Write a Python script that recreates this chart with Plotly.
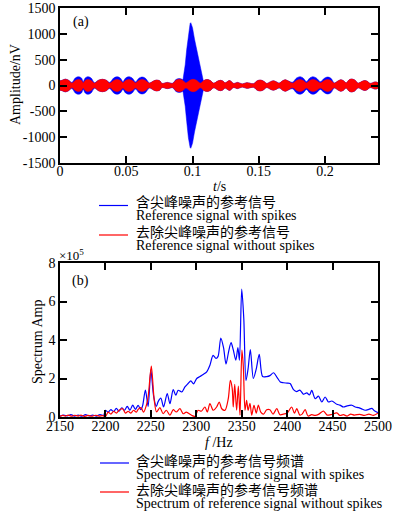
import plotly.graph_objects as go

# ---------------- Panel (a): time-domain envelopes (amplitude in nV) ----------------
env_t = [0, 0.0015, 0.004, 0.0065, 0.009,
         0.0115, 0.014, 0.0162, 0.0175,
         0.019, 0.021, 0.0235, 0.026,
         0.029, 0.032, 0.035, 0.0375,
         0.0405, 0.043, 0.0455, 0.0475,
         0.0495, 0.052, 0.0545, 0.057,
         0.0595, 0.062, 0.0645, 0.0675,
         0.0705, 0.073, 0.0755, 0.077,
         0.081, 0.085,
         0.0875, 0.090, 0.0925, 0.095,
         0.098, 0.1005, 0.103, 0.106,
         0.1085, 0.111, 0.1135, 0.116,
         0.119, 0.121, 0.123, 0.1245,
         0.128, 0.131, 0.134, 0.1375, 0.141, 0.146,
         0.1485, 0.151, 0.1535, 0.156,
         0.159, 0.161, 0.163, 0.1655,
         0.168, 0.170, 0.172, 0.1755,
         0.1785, 0.181, 0.1835, 0.186,
         0.1885, 0.191, 0.1935, 0.1965,
         0.1995, 0.202, 0.2045, 0.207,
         0.210, 0.212, 0.214, 0.216,
         0.218, 0.220, 0.2225, 0.225,
         0.228, 0.230, 0.232, 0.234,
         0.238, 0.24]

red_amp = [90, 100, 120, 100, 45,
           95, 115, 95, 50,
           95, 115, 95, 45,
           100, 120, 100, 45,
           95, 115, 95, 50,
           95, 115, 95, 50,
           95, 115, 95, 45,
           85, 105, 85, 40,
           60, 40,
           100, 120, 100, 50,
           100, 120, 100, 45,
           95, 115, 95, 45,
           85, 100, 85, 50,
           95, 40, 60, 30, 55, 35,
           85, 105, 85, 40,
           75, 90, 75, 45,
           90, 110, 90, 45,
           95, 115, 95, 50,
           95, 115, 95, 50,
           95, 115, 95, 45,
           90, 110, 90, 50,
           105, 125, 105, 45,
           80, 95, 80, 40,
           70, 50]

blue_amp = [90, 100, 125, 100, 60,
            145, 170, 145, 75,
            145, 170, 145, 55,
            100, 120, 100, 60,
            145, 170, 145, 75,
            145, 170, 145, 70,
            140, 165, 140, 50,
            85, 105, 85, 40,
            60, 45,
            115, 135, 115, 55,
            100, 120, 100, 50,
            95, 115, 95, 45,
            85, 100, 85, 50,
            95, 40, 60, 30, 55, 35,
            85, 105, 85, 40,
            75, 90, 75, 50,
            90, 110, 90, 65,
            145, 170, 145, 75,
            145, 170, 145, 75,
            140, 165, 140, 50,
            90, 110, 90, 50,
            105, 125, 105, 45,
            80, 95, 80, 40,
            70, 50]

spike_t = [0.0928, 0.0945, 0.0956, 0.0969, 0.0982, 0.0987, 0.1000, 0.1015, 0.1032, 0.1055, 0.1080]
spike_amp = [110, 400, 690, 1010, 1200, 1215, 1120, 900, 690, 400, 110]

t_ticks = [0, 0.05, 0.1, 0.15, 0.2]
t_ticktext = ["0", "0.05", "0.1", "0.15", "0.2"]
amp_ticks = [-1500, -1000, -500, 0, 500, 1000, 1500]
amp_ticktext = ["-1500", "-1000", "-500", "0", "500", "1000", "1500"]

# ---------------- Panel (b): spectra (units of 1e5) ----------------
blue_f = [2150, 2154, 2158, 2162, 2166, 2170, 2174, 2178, 2182, 2186, 2190, 2194, 2198,
          2200, 2203, 2206, 2209, 2212, 2215, 2218, 2221, 2224, 2227, 2230, 2233, 2236, 2239,
          2241, 2244, 2247, 2250, 2253, 2256, 2258, 2261, 2264, 2268, 2271, 2274.6, 2277.5,
          2280, 2284, 2287.5, 2291, 2294, 2297, 2300.5, 2304, 2308, 2311.5, 2315, 2318.5,
          2321.7, 2324, 2327, 2330, 2332.7, 2335.6, 2338.3, 2340.8, 2343.5, 2345.8, 2347.5,
          2350, 2352.3, 2354.7, 2357, 2359.5, 2362.8, 2366, 2369.3, 2373, 2377.5, 2381, 2385,
          2389, 2392.5, 2396, 2400, 2403.3, 2407, 2410.5, 2414, 2418, 2421.6, 2424.6, 2427.1,
          2430.8, 2434.5, 2438.2, 2441.8, 2445.5, 2449.2, 2454.7, 2458, 2462, 2466, 2471.2,
          2475, 2478.6, 2482, 2485.9, 2490, 2493.3, 2496, 2500]
blue_spec = [0.05, 0.10, 0.06, 0.12, 0.05, 0.10, 0.04, 0.12, 0.06, 0.10, 0.05, 0.12, 0.08,
             0.35, 0.25, 0.38, 0.28, 0.45, 0.30, 0.48, 0.35, 0.55, 0.35, 0.62, 0.40, 0.60, 0.38,
             0.60, 1.40, 0.55, 2.45, 1.10, 0.55, 0.80, 0.98, 0.52, 1.22, 0.69, 1.42, 1.13,
             1.39, 1.30, 1.56, 1.74, 1.88, 1.72, 2.00, 2.10, 2.22, 2.35, 2.69, 3.20,
             3.04, 3.15, 4.10, 3.60, 2.75, 3.40, 3.86, 3.47, 2.95, 3.60, 2.95,
             6.65, 5.10, 1.90, 2.50, 3.50, 2.00, 2.50, 3.25, 2.10, 2.10, 2.15, 2.30,
             2.05, 1.82, 1.78, 1.76, 1.74, 1.42, 1.32, 1.40, 1.18, 1.25, 1.15, 1.38,
             0.95, 1.08, 0.78, 1.04, 0.78, 0.83, 0.66, 0.62, 0.52, 0.58, 0.61,
             0.52, 0.49, 0.42, 0.35, 0.40, 0.45, 0.32, 0.23]

red_f = [2150, 2153, 2156, 2159, 2163, 2166, 2170, 2173, 2177, 2181, 2185, 2189, 2193, 2197,
         2200, 2203, 2206, 2209, 2212, 2215, 2219, 2222, 2225, 2228, 2231, 2234, 2236, 2239,
         2242, 2245, 2247, 2250.5, 2253.7, 2256.3, 2260, 2263.5, 2267, 2271, 2274.6, 2278,
         2282, 2285.6, 2289, 2294.8, 2298.5, 2302, 2305.5, 2309.5, 2312.1, 2315, 2318.7,
         2322.4, 2325.3, 2328, 2331.6, 2335.2, 2337.5, 2339.5, 2340.7, 2342.3, 2344.4, 2346.3,
         2348.1, 2350.2, 2351.8, 2353.6, 2355.4, 2357, 2359.1, 2361, 2363.5, 2366, 2368.3,
         2371, 2374, 2377.5, 2381, 2384.5, 2388.6, 2392, 2396, 2400, 2405, 2408, 2410.6,
         2414, 2416.5, 2419.8, 2423, 2427, 2431, 2435, 2440, 2444, 2448, 2454.7, 2458, 2462,
         2466, 2470, 2474, 2480, 2485, 2490, 2495, 2500]
red_spec = [0.03, 0.08, 0.05, 0.10, 0.04, 0.09, 0.05, 0.10, 0.03, 0.08, 0.04, 0.09, 0.05, 0.07,
            0.02, 0.25, 0.15, 0.30, 0.20, 0.35, 0.43, 0.20, 0.30, 0.20, 0.35, 0.25, 0.40, 0.49,
            0.25, 0.60, 1.04, 2.64, 0.87, 0.26, 0.49, 0.17, 0.35, 0.09, 0.38, 0.26,
            0.43, 0.17, 0.25, 0.09, 0.03, 0.35, 0.30, 0.52, 0.26, 0.69, 0.35,
            0.52, 0.78, 0.43, 0.35, 0.95, 1.90, 1.50, 0.52, 1.70, 0.35, 1.60,
            0.09, 3.47, 2.60, 0.35, 0.87, 0.35, 0.71, 0.10, 0.61, 0.20, 0.62,
            0.25, 0.15, 0.38, 0.38, 0.15, 0.43, 0.12, 0.15, 0.20, 0.52, 0.20, 0.43,
            0.10, 0.15, 0.38, 0.05, 0.12, 0.08, 0.15, 0.31, 0.10, 0.12, 0.21, 0.08, 0.12,
            0.05, 0.15, 0.10, 0.14, 0.08, 0.15, 0.08, 0.20]

f_ticks = [2150, 2200, 2250, 2300, 2350, 2400, 2450, 2500]
spec_ticks = [0, 2, 4, 6, 8]

assert len(env_t) == len(red_amp) == len(blue_amp)
assert len(blue_f) == len(blue_spec)
assert len(red_f) == len(red_spec)

BLUE = "#0000ff"
RED = "#ff0000"
SERIF = "Liberation Serif"
CJK = "Noto Sans CJK SC"

def band(t, a):
    return list(t) + list(t)[::-1], list(a) + [-v for v in list(a)[::-1]]

fig = go.Figure()

bx, by = band(env_t, blue_amp)
fig.add_trace(go.Scatter(x=bx, y=by, fill="toself", fillcolor=BLUE, mode="lines",
                         line=dict(color=BLUE, width=0.5, shape="spline", smoothing=1.0),
                         xaxis="x", yaxis="y", showlegend=False, hoverinfo="skip"))
sx, sy = band(spike_t, spike_amp)
fig.add_trace(go.Scatter(x=sx, y=sy, fill="toself", fillcolor=BLUE, mode="lines",
                         line=dict(color=BLUE, width=0.5),
                         xaxis="x", yaxis="y", showlegend=False, hoverinfo="skip"))
rx, ry = band(env_t, red_amp)
fig.add_trace(go.Scatter(x=rx, y=ry, fill="toself", fillcolor=RED, mode="lines",
                         line=dict(color=RED, width=0.5, shape="spline", smoothing=1.0),
                         xaxis="x", yaxis="y", showlegend=False, hoverinfo="skip"))

fig.add_trace(go.Scatter(x=blue_f, y=blue_spec, mode="lines",
                         line=dict(color=BLUE, width=1.2, shape="spline", smoothing=0.8),
                         xaxis="x2", yaxis="y2", showlegend=False))
fig.add_trace(go.Scatter(x=red_f, y=red_spec, mode="lines",
                         line=dict(color=RED, width=1.2, shape="spline", smoothing=0.8),
                         xaxis="x2", yaxis="y2", showlegend=False))

W, H = 398, 517
def px(x):
    return x / W
def py(y):
    return 1 - y / H

axis_common = dict(showline=True, linecolor="black", linewidth=1.5, mirror="ticks",
                   ticks="inside", ticklen=7, tickwidth=1.5, tickcolor="black",
                   showgrid=False, zeroline=False, automargin=False,
                   tickfont=dict(family=SERIF, size=14, color="black"))

fig.update_layout(
    width=W, height=H, margin=dict(l=0, r=0, t=0, b=0, autoexpand=False),
    paper_bgcolor="white", plot_bgcolor="white",
    font=dict(family=SERIF, size=14, color="black"),
    xaxis=dict(domain=[px(60), px(378)], range=[0, 0.24], tickvals=t_ticks,
               ticktext=t_ticktext, anchor="y", ticklabelstandoff=-6, **axis_common),
    yaxis=dict(domain=[py(163), py(8)], range=[-1500, 1500], tickvals=amp_ticks,
               ticktext=amp_ticktext, anchor="x", **axis_common),
    xaxis2=dict(domain=[px(60), px(378)], range=[2150, 2500], tickvals=f_ticks,
                anchor="y2", ticklabelstandoff=-5, **axis_common),
    yaxis2=dict(domain=[py(417), py(263)], range=[0, 8], tickvals=spec_ticks,
                anchor="x2", **axis_common),
)

ann = []
def text(x, y, s, family=SERIF, size=14, xanchor="left", angle=0):
    ann.append(dict(x=px(x), y=py(y), xref="paper", yref="paper", text=s, showarrow=False,
                    xanchor=xanchor, yanchor="middle", textangle=angle,
                    font=dict(family=family, size=size, color="black")))

text(71, 22, "(a)")
text(70, 281, "(b)")
text(219, 186, "<i>t</i>/s", xanchor="center")
text(219, 442, "<i>f</i> /Hz", xanchor="center")
text(15, 85, "Amplitude/nV", xanchor="center", angle=-90)
text(37, 342, "Spectrum Amp", xanchor="center", angle=-90)
text(57, 255, "×10<sup>5</sup>", size=13)

# legends
text(134, 201, "含尖峰噪声的参考信号", family=CJK, size=14)
text(134, 215, "Reference signal with spikes")
text(134, 231, "去除尖峰噪声的参考信号", family=CJK, size=14)
text(134, 246, "Reference signal without spikes")
text(134, 460, "含尖峰噪声的参考信号频谱", family=CJK, size=14)
text(134, 474, "Spectrum of reference signal with spikes")
text(134, 489, "去除尖峰噪声的参考信号频谱", family=CJK, size=14)
text(134, 503, "Spectrum of reference signal without spikes")

shapes = []
for (x0, x1, y, c) in [(99, 128, 205.5, BLUE), (99, 128, 235, RED),
                       (100, 129, 463, BLUE), (100, 129, 492, RED)]:
    shapes.append(dict(type="line", xref="paper", yref="paper", x0=px(x0), x1=px(x1),
                       y0=py(y), y1=py(y), line=dict(color=c, width=1.2)))

fig.update_layout(annotations=ann, shapes=shapes)
fig.write_html("out.html", config={"displayModeBar": False},
               post_script="document.body.style.margin='0';document.body.style.padding='0';")
